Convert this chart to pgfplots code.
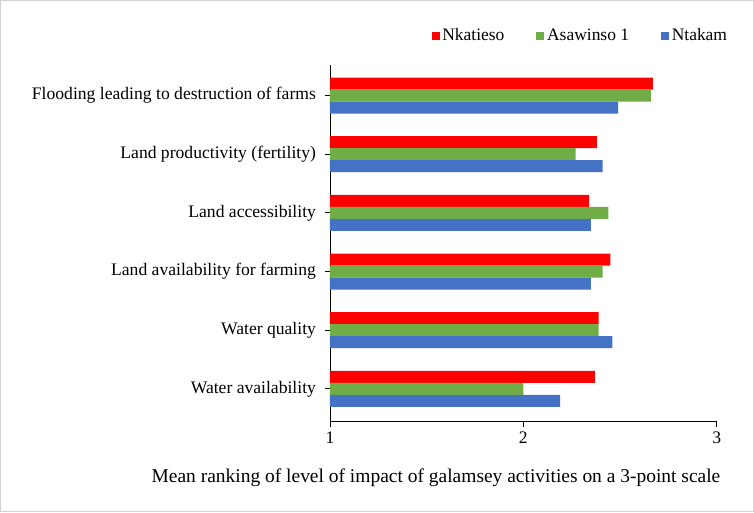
\documentclass[border=0pt]{standalone}
\usepackage{fontspec}
\setmainfont{Liberation Serif}
\usepackage{pgfplots}
\pgfplotsset{compat=1.18}
\definecolor{cred}{HTML}{FF0000}
\definecolor{cgreen}{HTML}{70AD47}
\definecolor{cblue}{HTML}{4472C4}
\begin{document}
\begin{tikzpicture}[x=1pt,y=1pt]
\path[use as bounding box] (-247.5,-67.7) rectangle (318,316.3);
\draw[black!18, line width=0.6pt] (-247.1,-67.3) rectangle (317.6,315.9);
\begin{axis}[
  at={(0,0)}, anchor=south west,
  scale only axis, width=290pt, height=267.5pt,
  xbar, bar width=9pt,
  xmin=1, xmax=3, xtick={1,2,3},
  ymin=-0.56, ymax=5.52,
  ytick={0,1,2,3,4,5},
  yticklabels={Water availability, Water quality, Land availability for farming, Land accessibility, Land productivity (fertility), Flooding leading to destruction of farms},
  axis x line*=bottom, axis y line*=left,
  tick align=outside, major tick length=4pt,
  tick style={black, line width=0.6pt},
  axis line style={black, line width=0.6pt},
  every tick label/.append style={font=\fontsize{13.2}{15}\selectfont, black},
  yticklabel style={xshift=-3pt},
  /pgf/number format/assume math mode=true,
  xlabel={Mean ranking of level of impact of galamsey activities on a 3-point scale},
  xlabel style={font=\fontsize{14.6}{17}\selectfont, at={(axis description cs:0.274,-0.158)}, anchor=center},
  legend style={draw=none, at={(axis description cs:0.252,1.082)}, anchor=west, font=\fontsize{13.1}{15}\selectfont, /tikz/every even column/.append style={column sep=22pt}, /tikz/every odd column/.append style={column sep=0pt}},
  legend columns=3,
  legend image code/.code={\fill[#1] (0pt,-3pt) rectangle (6pt,3pt);},
]
\addplot[draw=none, fill=cred, bar shift=9pt] coordinates {(2.37,0) (2.39,1) (2.45,2) (2.34,3) (2.38,4) (2.67,5)};
\addplot[draw=none, fill=cgreen, bar shift=0pt] coordinates {(2.00,0) (2.39,1) (2.41,2) (2.44,3) (2.27,4) (2.66,5)};
\addplot[draw=none, fill=cblue, bar shift=-9pt] coordinates {(2.19,0) (2.46,1) (2.35,2) (2.35,3) (2.41,4) (2.49,5)};
\legend{Nkatieso, Asawinso 1, Ntakam}
\end{axis}
\end{tikzpicture}
\end{document}
